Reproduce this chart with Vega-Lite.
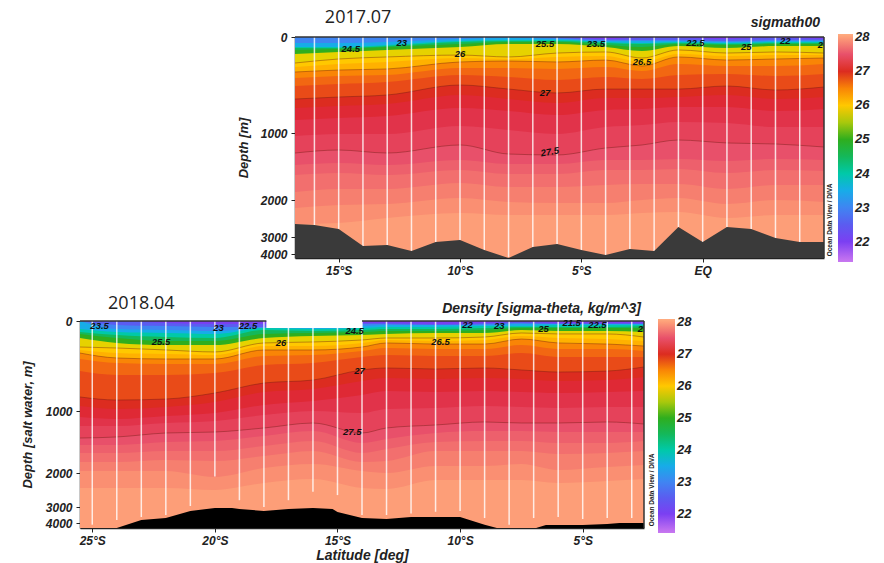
{"$schema":"https://vega.github.io/schema/vega-lite/v6.json","background":"white","padding":{"left":21,"top":8,"right":2,"bottom":2},"bounds":"flush","spacing":63,
"config":{"view":{"stroke":null},"font":"Liberation Sans","axis":{"labelFont":"Liberation Sans","labelFontWeight":"bold","labelFontStyle":"italic","labelFontSize":12,"labelColor":"#222","titleFont":"Liberation Sans","titleFontWeight":"bold","titleFontStyle":"italic","titleColor":"#222","domainColor":"#222","domainWidth":1.5,"tickColor":"#222","tickSize":4,"grid":false,"zindex":1},"legend":{"labelFont":"Liberation Sans","labelFontWeight":"bold","labelFontStyle":"italic","labelFontSize":13,"labelColor":"#222"},"title":{"font":"Liberation Sans","fontWeight":"bold","fontStyle":"italic","color":"#222"}},
"datasets":{
"lev1":[
{"s":22,"lat":-16.8,"d":0},{"s":22,"lat":5,"d":0},
{"s":22.5,"lat":-16.8,"d":0},{"s":22.5,"lat":-6,"d":0},{"s":22.5,"lat":-4,"d":21},{"s":22.5,"lat":-2.5,"d":10},{"s":22.5,"lat":-1,"d":10},{"s":22.5,"lat":1,"d":21},{"s":22.5,"lat":3,"d":10},{"s":22.5,"lat":5,"d":21},
{"s":23,"lat":-16.8,"d":0},{"s":23,"lat":-15,"d":0},{"s":23,"lat":-13,"d":0},{"s":23,"lat":-10,"d":0},{"s":23,"lat":-8,"d":0},{"s":23,"lat":-6,"d":10},{"s":23,"lat":-4,"d":31},{"s":23,"lat":-2.5,"d":31},{"s":23,"lat":-1,"d":31},{"s":23,"lat":1,"d":42},{"s":23,"lat":3,"d":31},{"s":23,"lat":5,"d":31},
{"s":23.5,"lat":-16.8,"d":63},{"s":23.5,"lat":-15,"d":63},{"s":23.5,"lat":-13,"d":52},{"s":23.5,"lat":-10,"d":21},{"s":23.5,"lat":-8,"d":10},{"s":23.5,"lat":-6,"d":21},{"s":23.5,"lat":-4,"d":42},{"s":23.5,"lat":-2.5,"d":42},{"s":23.5,"lat":-1,"d":42},{"s":23.5,"lat":1,"d":52},{"s":23.5,"lat":3,"d":42},{"s":23.5,"lat":5,"d":42},
{"s":24,"lat":-16.8,"d":104},{"s":24,"lat":-15,"d":104},{"s":24,"lat":-13,"d":83},{"s":24,"lat":-10,"d":42},{"s":24,"lat":-8,"d":31},{"s":24,"lat":-6,"d":31},{"s":24,"lat":-4,"d":52},{"s":24,"lat":-2.5,"d":63},{"s":24,"lat":-1,"d":52},{"s":24,"lat":1,"d":63},{"s":24,"lat":3,"d":52},{"s":24,"lat":5,"d":52},
{"s":24.5,"lat":-16.8,"d":115},{"s":24.5,"lat":-15,"d":115},{"s":24.5,"lat":-13,"d":94},{"s":24.5,"lat":-10,"d":52},{"s":24.5,"lat":-8,"d":42},{"s":24.5,"lat":-6,"d":42},{"s":24.5,"lat":-4,"d":63},{"s":24.5,"lat":-2.5,"d":73},{"s":24.5,"lat":-1,"d":63},{"s":24.5,"lat":1,"d":73},{"s":24.5,"lat":3,"d":63},{"s":24.5,"lat":5,"d":63},
{"s":25,"lat":-16.8,"d":135},{"s":25,"lat":-15,"d":125},{"s":25,"lat":-13,"d":104},{"s":25,"lat":-10,"d":73},{"s":25,"lat":-8,"d":52},{"s":25,"lat":-6,"d":52},{"s":25,"lat":-4,"d":83},{"s":25,"lat":-2.5,"d":104},{"s":25,"lat":-1,"d":73},{"s":25,"lat":1,"d":83},{"s":25,"lat":3,"d":73},{"s":25,"lat":5,"d":73},
{"s":25.75,"lat":-16.8,"d":177},{"s":25.75,"lat":-15,"d":156},{"s":25.75,"lat":-13,"d":135},{"s":25.75,"lat":-10,"d":104},{"s":25.75,"lat":-8,"d":73},{"s":25.75,"lat":-6,"d":73},{"s":25.75,"lat":-4,"d":104},{"s":25.75,"lat":-2.5,"d":146},{"s":25.75,"lat":-1,"d":94},{"s":25.75,"lat":1,"d":115},{"s":25.75,"lat":3,"d":94},{"s":25.75,"lat":5,"d":94},
{"s":26,"lat":-16.8,"d":271},{"s":26,"lat":-15,"d":229},{"s":26,"lat":-13,"d":208},{"s":26,"lat":-10,"d":188},{"s":26,"lat":-8,"d":208},{"s":26,"lat":-6,"d":167},{"s":26,"lat":-4,"d":156},{"s":26,"lat":-2.5,"d":219},{"s":26,"lat":-1,"d":135},{"s":26,"lat":1,"d":167},{"s":26,"lat":3,"d":156},{"s":26,"lat":5,"d":167},
{"s":26.25,"lat":-16.8,"d":313},{"s":26.25,"lat":-15,"d":281},{"s":26.25,"lat":-13,"d":260},{"s":26.25,"lat":-10,"d":219},{"s":26.25,"lat":-8,"d":229},{"s":26.25,"lat":-6,"d":208},{"s":26.25,"lat":-4,"d":198},{"s":26.25,"lat":-2.5,"d":260},{"s":26.25,"lat":-1,"d":177},{"s":26.25,"lat":1,"d":198},{"s":26.25,"lat":3,"d":188},{"s":26.25,"lat":5,"d":188},
{"s":26.5,"lat":-16.8,"d":365},{"s":26.5,"lat":-15,"d":344},{"s":26.5,"lat":-13,"d":333},{"s":26.5,"lat":-10,"d":260},{"s":26.5,"lat":-8,"d":250},{"s":26.5,"lat":-6,"d":260},{"s":26.5,"lat":-4,"d":240},{"s":26.5,"lat":-2.5,"d":302},{"s":26.5,"lat":-1,"d":208},{"s":26.5,"lat":1,"d":240},{"s":26.5,"lat":3,"d":229},{"s":26.5,"lat":5,"d":219},
{"s":26.65,"lat":-16.8,"d":427},{"s":26.65,"lat":-15,"d":406},{"s":26.65,"lat":-13,"d":396},{"s":26.65,"lat":-10,"d":323},{"s":26.65,"lat":-8,"d":323},{"s":26.65,"lat":-6,"d":333},{"s":26.65,"lat":-4,"d":313},{"s":26.65,"lat":-2.5,"d":354},{"s":26.65,"lat":-1,"d":281},{"s":26.65,"lat":1,"d":302},{"s":26.65,"lat":3,"d":302},{"s":26.65,"lat":5,"d":281},
{"s":26.8,"lat":-16.8,"d":510},{"s":26.8,"lat":-15,"d":490},{"s":26.8,"lat":-13,"d":469},{"s":26.8,"lat":-10,"d":396},{"s":26.8,"lat":-8,"d":417},{"s":26.8,"lat":-6,"d":448},{"s":26.8,"lat":-4,"d":417},{"s":26.8,"lat":-2.5,"d":438},{"s":26.8,"lat":-1,"d":396},{"s":26.8,"lat":1,"d":385},{"s":26.8,"lat":3,"d":406},{"s":26.8,"lat":5,"d":385},
{"s":27,"lat":-16.8,"d":646},{"s":27,"lat":-15,"d":625},{"s":27,"lat":-13,"d":604},{"s":27,"lat":-10,"d":500},{"s":27,"lat":-8,"d":542},{"s":27,"lat":-6,"d":583},{"s":27,"lat":-4,"d":542},{"s":27,"lat":-2.5,"d":542},{"s":27,"lat":-1,"d":542},{"s":27,"lat":1,"d":510},{"s":27,"lat":3,"d":552},{"s":27,"lat":5,"d":521},
{"s":27.15,"lat":-16.8,"d":740},{"s":27.15,"lat":-15,"d":719},{"s":27.15,"lat":-13,"d":698},{"s":27.15,"lat":-10,"d":604},{"s":27.15,"lat":-8,"d":646},{"s":27.15,"lat":-6,"d":688},{"s":27.15,"lat":-4,"d":635},{"s":27.15,"lat":-2.5,"d":635},{"s":27.15,"lat":-1,"d":625},{"s":27.15,"lat":1,"d":604},{"s":27.15,"lat":3,"d":646},{"s":27.15,"lat":5,"d":625},
{"s":27.3,"lat":-16.8,"d":865},{"s":27.3,"lat":-15,"d":844},{"s":27.3,"lat":-13,"d":823},{"s":27.3,"lat":-10,"d":740},{"s":27.3,"lat":-8,"d":771},{"s":27.3,"lat":-6,"d":813},{"s":27.3,"lat":-4,"d":760},{"s":27.3,"lat":-2.5,"d":750},{"s":27.3,"lat":-1,"d":729},{"s":27.3,"lat":1,"d":729},{"s":27.3,"lat":3,"d":771},{"s":27.3,"lat":5,"d":750},
{"s":27.4,"lat":-16.8,"d":1045},{"s":27.4,"lat":-15,"d":1015},{"s":27.4,"lat":-13,"d":1015},{"s":27.4,"lat":-10,"d":927},{"s":27.4,"lat":-8,"d":969},{"s":27.4,"lat":-6,"d":1015},{"s":27.4,"lat":-4,"d":938},{"s":27.4,"lat":-2.5,"d":917},{"s":27.4,"lat":-1,"d":885},{"s":27.4,"lat":1,"d":896},{"s":27.4,"lat":3,"d":938},{"s":27.4,"lat":5,"d":938},
{"s":27.5,"lat":-16.8,"d":1299},{"s":27.5,"lat":-15,"d":1254},{"s":27.5,"lat":-13,"d":1299},{"s":27.5,"lat":-10,"d":1179},{"s":27.5,"lat":-8,"d":1314},{"s":27.5,"lat":-6,"d":1328},{"s":27.5,"lat":-4,"d":1224},{"s":27.5,"lat":-2.5,"d":1179},{"s":27.5,"lat":-1,"d":1105},{"s":27.5,"lat":1,"d":1149},{"s":27.5,"lat":3,"d":1164},{"s":27.5,"lat":5,"d":1209},
{"s":27.6,"lat":-16.8,"d":1478},{"s":27.6,"lat":-15,"d":1448},{"s":27.6,"lat":-13,"d":1478},{"s":27.6,"lat":-10,"d":1403},{"s":27.6,"lat":-8,"d":1463},{"s":27.6,"lat":-6,"d":1463},{"s":27.6,"lat":-4,"d":1403},{"s":27.6,"lat":-2.5,"d":1403},{"s":27.6,"lat":-1,"d":1388},{"s":27.6,"lat":1,"d":1418},{"s":27.6,"lat":3,"d":1388},{"s":27.6,"lat":5,"d":1403},
{"s":27.7,"lat":-16.8,"d":1627},{"s":27.7,"lat":-15,"d":1597},{"s":27.7,"lat":-13,"d":1627},{"s":27.7,"lat":-10,"d":1552},{"s":27.7,"lat":-8,"d":1612},{"s":27.7,"lat":-6,"d":1612},{"s":27.7,"lat":-4,"d":1552},{"s":27.7,"lat":-2.5,"d":1552},{"s":27.7,"lat":-1,"d":1537},{"s":27.7,"lat":1,"d":1597},{"s":27.7,"lat":3,"d":1552},{"s":27.7,"lat":5,"d":1567},
{"s":27.8,"lat":-16.8,"d":1881},{"s":27.8,"lat":-15,"d":1836},{"s":27.8,"lat":-13,"d":1836},{"s":27.8,"lat":-10,"d":1746},{"s":27.8,"lat":-8,"d":1806},{"s":27.8,"lat":-6,"d":1806},{"s":27.8,"lat":-4,"d":1776},{"s":27.8,"lat":-2.5,"d":1761},{"s":27.8,"lat":-1,"d":1761},{"s":27.8,"lat":1,"d":1836},{"s":27.8,"lat":3,"d":1776},{"s":27.8,"lat":5,"d":1776},
{"s":27.9,"lat":-16.8,"d":2216},{"s":27.9,"lat":-15,"d":2135},{"s":27.9,"lat":-13,"d":2108},{"s":27.9,"lat":-10,"d":1970},{"s":27.9,"lat":-8,"d":2054},{"s":27.9,"lat":-6,"d":2081},{"s":27.9,"lat":-4,"d":2081},{"s":27.9,"lat":-2.5,"d":2000},{"s":27.9,"lat":-1,"d":1970},{"s":27.9,"lat":1,"d":2108},{"s":27.9,"lat":3,"d":2000},{"s":27.9,"lat":5,"d":2054},
{"s":28,"lat":-16.8,"d":2648},{"s":28,"lat":-15,"d":2621},{"s":28,"lat":-13,"d":2486},{"s":28,"lat":-10,"d":2351},{"s":28,"lat":-8,"d":2405},{"s":28,"lat":-6,"d":2405},{"s":28,"lat":-4,"d":2405},{"s":28,"lat":-2.5,"d":2351},{"s":28,"lat":-1,"d":2324},{"s":28,"lat":1,"d":2486},{"s":28,"lat":3,"d":2405},{"s":28,"lat":5,"d":2405}
],
"lev2":[
{"s":22,"lat":-25.5,"d":0},{"s":22,"lat":-2.5,"d":0},
{"s":22.5,"lat":-25.5,"d":0},{"s":22.5,"lat":-24,"d":0},{"s":22.5,"lat":-22,"d":22},{"s":22.5,"lat":-20,"d":33},{"s":22.5,"lat":-18,"d":33},{"s":22.5,"lat":-16,"d":33},{"s":22.5,"lat":-14,"d":22},{"s":22.5,"lat":-13,"d":22},{"s":22.5,"lat":-11,"d":33},{"s":22.5,"lat":-9,"d":22},{"s":22.5,"lat":-7.5,"d":11},{"s":22.5,"lat":-6,"d":22},{"s":22.5,"lat":-4,"d":22},{"s":22.5,"lat":-2.5,"d":22},
{"s":23,"lat":-25.5,"d":0},{"s":23,"lat":-24,"d":44},{"s":23,"lat":-22,"d":56},{"s":23,"lat":-20,"d":67},{"s":23,"lat":-18,"d":67},{"s":23,"lat":-16,"d":78},{"s":23,"lat":-14,"d":33},{"s":23,"lat":-13,"d":33},{"s":23,"lat":-11,"d":44},{"s":23,"lat":-9,"d":33},{"s":23,"lat":-7.5,"d":22},{"s":23,"lat":-6,"d":33},{"s":23,"lat":-4,"d":33},{"s":23,"lat":-2.5,"d":33},
{"s":23.5,"lat":-25.5,"d":0},{"s":23.5,"lat":-24,"d":89},{"s":23.5,"lat":-22,"d":100},{"s":23.5,"lat":-20,"d":111},{"s":23.5,"lat":-18,"d":78},{"s":23.5,"lat":-16,"d":78},{"s":23.5,"lat":-14,"d":56},{"s":23.5,"lat":-13,"d":44},{"s":23.5,"lat":-11,"d":44},{"s":23.5,"lat":-9,"d":44},{"s":23.5,"lat":-7.5,"d":33},{"s":23.5,"lat":-6,"d":33},{"s":23.5,"lat":-4,"d":33},{"s":23.5,"lat":-2.5,"d":33},
{"s":24,"lat":-25.5,"d":89},{"s":24,"lat":-24,"d":122},{"s":24,"lat":-22,"d":133},{"s":24,"lat":-20,"d":144},{"s":24,"lat":-18,"d":78},{"s":24,"lat":-16,"d":89},{"s":24,"lat":-14,"d":78},{"s":24,"lat":-13,"d":67},{"s":24,"lat":-11,"d":67},{"s":24,"lat":-9,"d":56},{"s":24,"lat":-7.5,"d":56},{"s":24,"lat":-6,"d":44},{"s":24,"lat":-4,"d":44},{"s":24,"lat":-2.5,"d":44},
{"s":24.5,"lat":-25.5,"d":122},{"s":24.5,"lat":-24,"d":156},{"s":24.5,"lat":-22,"d":178},{"s":24.5,"lat":-20,"d":189},{"s":24.5,"lat":-18,"d":100},{"s":24.5,"lat":-16,"d":111},{"s":24.5,"lat":-14,"d":100},{"s":24.5,"lat":-13,"d":89},{"s":24.5,"lat":-11,"d":89},{"s":24.5,"lat":-9,"d":78},{"s":24.5,"lat":-7.5,"d":67},{"s":24.5,"lat":-6,"d":67},{"s":24.5,"lat":-4,"d":67},{"s":24.5,"lat":-2.5,"d":56},
{"s":25,"lat":-25.5,"d":144},{"s":25,"lat":-24,"d":189},{"s":25,"lat":-22,"d":222},{"s":25,"lat":-20,"d":222},{"s":25,"lat":-18,"d":144},{"s":25,"lat":-16,"d":133},{"s":25,"lat":-14,"d":122},{"s":25,"lat":-13,"d":111},{"s":25,"lat":-11,"d":111},{"s":25,"lat":-9,"d":100},{"s":25,"lat":-7.5,"d":78},{"s":25,"lat":-6,"d":78},{"s":25,"lat":-4,"d":78},{"s":25,"lat":-2.5,"d":78},
{"s":25.75,"lat":-25.5,"d":189},{"s":25.75,"lat":-24,"d":244},{"s":25.75,"lat":-22,"d":267},{"s":25.75,"lat":-20,"d":267},{"s":25.75,"lat":-18,"d":189},{"s":25.75,"lat":-16,"d":167},{"s":25.75,"lat":-14,"d":156},{"s":25.75,"lat":-13,"d":144},{"s":25.75,"lat":-11,"d":133},{"s":25.75,"lat":-9,"d":133},{"s":25.75,"lat":-7.5,"d":100},{"s":25.75,"lat":-6,"d":111},{"s":25.75,"lat":-4,"d":111},{"s":25.75,"lat":-2.5,"d":122},
{"s":26,"lat":-25.5,"d":289},{"s":26,"lat":-24,"d":300},{"s":26,"lat":-22,"d":322},{"s":26,"lat":-20,"d":344},{"s":26,"lat":-18,"d":244},{"s":26,"lat":-16,"d":233},{"s":26,"lat":-14,"d":211},{"s":26,"lat":-13,"d":189},{"s":26,"lat":-11,"d":189},{"s":26,"lat":-9,"d":178},{"s":26,"lat":-7.5,"d":133},{"s":26,"lat":-6,"d":144},{"s":26,"lat":-4,"d":144},{"s":26,"lat":-2.5,"d":178},
{"s":26.25,"lat":-25.5,"d":322},{"s":26.25,"lat":-24,"d":356},{"s":26.25,"lat":-22,"d":367},{"s":26.25,"lat":-20,"d":378},{"s":26.25,"lat":-18,"d":278},{"s":26.25,"lat":-16,"d":278},{"s":26.25,"lat":-14,"d":244},{"s":26.25,"lat":-13,"d":211},{"s":26.25,"lat":-11,"d":222},{"s":26.25,"lat":-9,"d":211},{"s":26.25,"lat":-7.5,"d":167},{"s":26.25,"lat":-6,"d":189},{"s":26.25,"lat":-4,"d":200},{"s":26.25,"lat":-2.5,"d":222},
{"s":26.5,"lat":-25.5,"d":356},{"s":26.5,"lat":-24,"d":411},{"s":26.5,"lat":-22,"d":422},{"s":26.5,"lat":-20,"d":422},{"s":26.5,"lat":-18,"d":322},{"s":26.5,"lat":-16,"d":322},{"s":26.5,"lat":-14,"d":289},{"s":26.5,"lat":-13,"d":244},{"s":26.5,"lat":-11,"d":256},{"s":26.5,"lat":-9,"d":256},{"s":26.5,"lat":-7.5,"d":200},{"s":26.5,"lat":-6,"d":244},{"s":26.5,"lat":-4,"d":256},{"s":26.5,"lat":-2.5,"d":278},
{"s":26.65,"lat":-25.5,"d":422},{"s":26.65,"lat":-24,"d":467},{"s":26.65,"lat":-22,"d":478},{"s":26.65,"lat":-20,"d":478},{"s":26.65,"lat":-18,"d":389},{"s":26.65,"lat":-16,"d":378},{"s":26.65,"lat":-14,"d":333},{"s":26.65,"lat":-13,"d":300},{"s":26.65,"lat":-11,"d":311},{"s":26.65,"lat":-9,"d":311},{"s":26.65,"lat":-7.5,"d":267},{"s":26.65,"lat":-6,"d":311},{"s":26.65,"lat":-4,"d":311},{"s":26.65,"lat":-2.5,"d":333},
{"s":26.8,"lat":-25.5,"d":556},{"s":26.8,"lat":-24,"d":600},{"s":26.8,"lat":-22,"d":600},{"s":26.8,"lat":-20,"d":578},{"s":26.8,"lat":-18,"d":489},{"s":26.8,"lat":-16,"d":467},{"s":26.8,"lat":-14,"d":400},{"s":26.8,"lat":-13,"d":378},{"s":26.8,"lat":-11,"d":389},{"s":26.8,"lat":-9,"d":389},{"s":26.8,"lat":-7.5,"d":356},{"s":26.8,"lat":-6,"d":400},{"s":26.8,"lat":-4,"d":400},{"s":26.8,"lat":-2.5,"d":400},
{"s":27,"lat":-25.5,"d":844},{"s":27,"lat":-24,"d":878},{"s":27,"lat":-22,"d":867},{"s":27,"lat":-20,"d":800},{"s":27,"lat":-18,"d":689},{"s":27,"lat":-16,"d":656},{"s":27,"lat":-14,"d":544},{"s":27,"lat":-13,"d":522},{"s":27,"lat":-11,"d":533},{"s":27,"lat":-9,"d":522},{"s":27,"lat":-7.5,"d":544},{"s":27,"lat":-6,"d":567},{"s":27,"lat":-4,"d":556},{"s":27,"lat":-2.5,"d":511},
{"s":27.15,"lat":-25.5,"d":944},{"s":27.15,"lat":-24,"d":978},{"s":27.15,"lat":-22,"d":956},{"s":27.15,"lat":-20,"d":900},{"s":27.15,"lat":-18,"d":789},{"s":27.15,"lat":-16,"d":756},{"s":27.15,"lat":-14,"d":667},{"s":27.15,"lat":-13,"d":633},{"s":27.15,"lat":-11,"d":644},{"s":27.15,"lat":-9,"d":633},{"s":27.15,"lat":-7.5,"d":644},{"s":27.15,"lat":-6,"d":667},{"s":27.15,"lat":-4,"d":656},{"s":27.15,"lat":-2.5,"d":622},
{"s":27.3,"lat":-25.5,"d":1097},{"s":27.3,"lat":-24,"d":1129},{"s":27.3,"lat":-22,"d":1081},{"s":27.3,"lat":-20,"d":1032},{"s":27.3,"lat":-18,"d":933},{"s":27.3,"lat":-16,"d":889},{"s":27.3,"lat":-14,"d":822},{"s":27.3,"lat":-13,"d":778},{"s":27.3,"lat":-11,"d":789},{"s":27.3,"lat":-9,"d":778},{"s":27.3,"lat":-7.5,"d":789},{"s":27.3,"lat":-6,"d":800},{"s":27.3,"lat":-4,"d":789},{"s":27.3,"lat":-2.5,"d":778},
{"s":27.4,"lat":-25.5,"d":1242},{"s":27.4,"lat":-24,"d":1242},{"s":27.4,"lat":-22,"d":1194},{"s":27.4,"lat":-20,"d":1161},{"s":27.4,"lat":-18,"d":1065},{"s":27.4,"lat":-16,"d":1000},{"s":27.4,"lat":-14,"d":1032},{"s":27.4,"lat":-13,"d":978},{"s":27.4,"lat":-11,"d":967},{"s":27.4,"lat":-9,"d":944},{"s":27.4,"lat":-7.5,"d":956},{"s":27.4,"lat":-6,"d":967},{"s":27.4,"lat":-4,"d":956},{"s":27.4,"lat":-2.5,"d":956},
{"s":27.5,"lat":-25.5,"d":1436},{"s":27.5,"lat":-24,"d":1419},{"s":27.5,"lat":-22,"d":1355},{"s":27.5,"lat":-20,"d":1339},{"s":27.5,"lat":-18,"d":1274},{"s":27.5,"lat":-16,"d":1194},{"s":27.5,"lat":-14,"d":1355},{"s":27.5,"lat":-13,"d":1274},{"s":27.5,"lat":-11,"d":1226},{"s":27.5,"lat":-9,"d":1177},{"s":27.5,"lat":-7.5,"d":1194},{"s":27.5,"lat":-6,"d":1194},{"s":27.5,"lat":-4,"d":1177},{"s":27.5,"lat":-2.5,"d":1210},
{"s":27.6,"lat":-25.5,"d":1548},{"s":27.6,"lat":-24,"d":1548},{"s":27.6,"lat":-22,"d":1500},{"s":27.6,"lat":-20,"d":1484},{"s":27.6,"lat":-18,"d":1403},{"s":27.6,"lat":-16,"d":1323},{"s":27.6,"lat":-14,"d":1516},{"s":27.6,"lat":-13,"d":1452},{"s":27.6,"lat":-11,"d":1355},{"s":27.6,"lat":-9,"d":1323},{"s":27.6,"lat":-7.5,"d":1323},{"s":27.6,"lat":-6,"d":1339},{"s":27.6,"lat":-4,"d":1339},{"s":27.6,"lat":-2.5,"d":1339},
{"s":27.7,"lat":-25.5,"d":1677},{"s":27.7,"lat":-24,"d":1677},{"s":27.7,"lat":-22,"d":1645},{"s":27.7,"lat":-20,"d":1645},{"s":27.7,"lat":-18,"d":1565},{"s":27.7,"lat":-16,"d":1484},{"s":27.7,"lat":-14,"d":1677},{"s":27.7,"lat":-13,"d":1613},{"s":27.7,"lat":-11,"d":1500},{"s":27.7,"lat":-9,"d":1484},{"s":27.7,"lat":-7.5,"d":1484},{"s":27.7,"lat":-6,"d":1516},{"s":27.7,"lat":-4,"d":1516},{"s":27.7,"lat":-2.5,"d":1484},
{"s":27.8,"lat":-25.5,"d":1823},{"s":27.8,"lat":-24,"d":1823},{"s":27.8,"lat":-22,"d":1790},{"s":27.8,"lat":-20,"d":1806},{"s":27.8,"lat":-18,"d":1726},{"s":27.8,"lat":-16,"d":1645},{"s":27.8,"lat":-14,"d":1823},{"s":27.8,"lat":-13,"d":1806},{"s":27.8,"lat":-11,"d":1645},{"s":27.8,"lat":-9,"d":1645},{"s":27.8,"lat":-7.5,"d":1645},{"s":27.8,"lat":-6,"d":1694},{"s":27.8,"lat":-4,"d":1677},{"s":27.8,"lat":-2.5,"d":1645},
{"s":27.9,"lat":-25.5,"d":1968},{"s":27.9,"lat":-24,"d":1968},{"s":27.9,"lat":-22,"d":1968},{"s":27.9,"lat":-20,"d":2118},{"s":27.9,"lat":-18,"d":1919},{"s":27.9,"lat":-16,"d":1855},{"s":27.9,"lat":-14,"d":1968},{"s":27.9,"lat":-13,"d":2000},{"s":27.9,"lat":-11,"d":1887},{"s":27.9,"lat":-9,"d":1887},{"s":27.9,"lat":-7.5,"d":1855},{"s":27.9,"lat":-6,"d":1952},{"s":27.9,"lat":-4,"d":1903},{"s":27.9,"lat":-2.5,"d":1871},
{"s":28,"lat":-25.5,"d":2441},{"s":28,"lat":-24,"d":2441},{"s":28,"lat":-22,"d":2441},{"s":28,"lat":-20,"d":2500},{"s":28,"lat":-18,"d":2294},{"s":28,"lat":-16,"d":2176},{"s":28,"lat":-14,"d":2441},{"s":28,"lat":-13,"d":2470},{"s":28,"lat":-11,"d":2206},{"s":28,"lat":-9,"d":2206},{"s":28,"lat":-7.5,"d":2206},{"s":28,"lat":-6,"d":2294},{"s":28,"lat":-4,"d":2235},{"s":28,"lat":-2.5,"d":2176}
],
"sta1":[{"lat":-16,"d":0,"end":2675},{"lat":-15,"d":0,"end":2783},{"lat":-14,"d":0,"end":3530},{"lat":-13,"d":0,"end":3470},{"lat":-12,"d":0,"end":3820},{"lat":-11,"d":0,"end":3295},{"lat":-10,"d":0,"end":3176},{"lat":-9,"d":0,"end":3765},{"lat":-8,"d":0,"end":4220},{"lat":-7,"d":0,"end":3590},{"lat":-6,"d":0,"end":3410},{"lat":-5,"d":0,"end":3765},{"lat":-4,"d":0,"end":4080},{"lat":-3,"d":0,"end":3705},{"lat":-2,"d":0,"end":3820},{"lat":-1,"d":0,"end":2730},{"lat":0,"d":0,"end":3295},{"lat":1,"d":0,"end":2730},{"lat":2,"d":0,"end":2783},{"lat":3,"d":0,"end":3060},{"lat":4,"d":0,"end":3295}],
"sta2":[{"lat":-25,"d":0,"end":4100},{"lat":-24,"d":0,"end":3812},{"lat":-23,"d":0,"end":3625},{"lat":-22,"d":0,"end":3500},{"lat":-21,"d":0,"end":2970},{"lat":-20,"d":0,"end":2100},{"lat":-19,"d":0,"end":2800},{"lat":-18,"d":0,"end":3000},{"lat":-17,"d":0,"end":2800},{"lat":-16,"d":0,"end":2550},{"lat":-15,"d":0,"end":2650},{"lat":-14,"d":0,"end":3500},{"lat":-13,"d":0,"end":3500},{"lat":-12,"d":0,"end":3400},{"lat":-11,"d":0,"end":3300},{"lat":-10,"d":0,"end":3250},{"lat":-9,"d":0,"end":3690},{"lat":-8,"d":0,"end":4100},{"lat":-7,"d":0,"end":3690},{"lat":-6,"d":0,"end":3625},{"lat":-5,"d":0,"end":3750},{"lat":-4,"d":0,"end":3690},{"lat":-3,"d":0,"end":3690}],
"bath1":[{"lat":-16.8,"d":2648},{"lat":-16,"d":2675},{"lat":-15,"d":2783},{"lat":-14,"d":3530},{"lat":-13,"d":3470},{"lat":-12,"d":3820},{"lat":-11,"d":3295},{"lat":-10,"d":3176},{"lat":-9,"d":3765},{"lat":-8,"d":4300},{"lat":-7,"d":3590},{"lat":-6,"d":3410},{"lat":-5,"d":3765},{"lat":-4,"d":4080},{"lat":-3,"d":3705},{"lat":-2,"d":3820},{"lat":-1,"d":2730},{"lat":0,"d":3295},{"lat":1,"d":2730},{"lat":2,"d":2783},{"lat":3,"d":3060},{"lat":4,"d":3295},{"lat":5,"d":3295}],
"bath2":[{"lat":-25.5,"d":4300},{"lat":-24,"d":4300},{"lat":-23,"d":3812},{"lat":-22,"d":3690},{"lat":-21,"d":3250},{"lat":-20,"d":3060},{"lat":-19.3,"d":3060},{"lat":-19,"d":3125},{"lat":-18,"d":3250},{"lat":-17,"d":3125},{"lat":-16,"d":3060},{"lat":-15.2,"d":3125},{"lat":-15,"d":3312},{"lat":-14,"d":3690},{"lat":-13,"d":3750},{"lat":-12,"d":3625},{"lat":-10,"d":3625},{"lat":-9,"d":4100},{"lat":-8.5,"d":4300},{"lat":-6.9,"d":4300},{"lat":-6.5,"d":4120},{"lat":-5,"d":4120},{"lat":-4,"d":4060},{"lat":-3.5,"d":4000},{"lat":-2.5,"d":4000}],
"lab1":[{"lat":-14.5,"d":125,"t":"24.5","a":0},{"lat":-12.4,"d":62,"t":"23","a":0},{"lat":-10,"d":177,"t":"26","a":0},{"lat":-6.5,"d":73,"t":"25.5","a":0},{"lat":-4.4,"d":73,"t":"23.5","a":0},{"lat":-2.5,"d":260,"t":"26.5","a":0},{"lat":-6.5,"d":583,"t":"27","a":0},{"lat":-6.3,"d":1284,"t":"27.5","a":-10},{"lat":-0.3,"d":62,"t":"22.5","a":0},{"lat":1.8,"d":104,"t":"25","a":0},{"lat":3.4,"d":42,"t":"22","a":0},{"lat":4.85,"d":83,"t":"2","a":0}],
"lab2":[{"lat":-24.7,"d":56,"t":"23.5","a":0},{"lat":-22.2,"d":233,"t":"25.5","a":0},{"lat":-19.85,"d":78,"t":"23","a":0},{"lat":-18.65,"d":56,"t":"22.5","a":0},{"lat":-17.3,"d":244,"t":"26","a":0},{"lat":-14.3,"d":111,"t":"24.5","a":0},{"lat":-14.1,"d":556,"t":"27","a":0},{"lat":-14.4,"d":1339,"t":"27.5","a":0},{"lat":-10.8,"d":233,"t":"26.5","a":0},{"lat":-9.7,"d":44,"t":"22","a":0},{"lat":-8.4,"d":56,"t":"23","a":0},{"lat":-6.6,"d":89,"t":"25","a":0},{"lat":-5.45,"d":22,"t":"21.5","a":0},{"lat":-4.4,"d":44,"t":"22.5","a":0},{"lat":-2.65,"d":89,"t":"2","a":0}]
},
"resolve":{"scale":{"color":"independent"},"legend":{"color":"independent"}},
"vconcat":[
{"width":744,"height":221,
"title":{"text":"sigmath00","anchor":"end","frame":"group","fontSize":14,"offset":-21,"dx":-4},
"encoding":{"x":{"field":"lat","type":"quantitative","scale":{"domain":[-16.8,5],"range":[215,744],"nice":false,"zero":false},"axis":{"values":[-15,-10,-5,0],"labelExpr":"datum.value==0?'EQ':abs(datum.value)+'°S'","title":null,"labelPadding":3}},
"y":{"field":"d","type":"quantitative","scale":{"domain":[0,1000,2000,3000,4000,4300],"range":[0,96,163,200,217,221],"nice":false,"zero":false},"axis":{"values":[0,1000,2000,3000,4000],"format":"d","title":"Depth [m]","titleFontSize":13,"titlePadding":10,"labelPadding":4,"offset":-215}}},
"layer":[
{"data":{"name":"lev1"},"mark":{"type":"area","orient":"vertical","interpolate":"monotone"},"encoding":{"y2":{"datum":4300},"detail":{"field":"s"},"color":{"field":"s","type":"quantitative","scale":{"domain":[21.4,22,22.5,23,23.5,24,24.5,25,25.5,25.8,26,26.3,26.6,26.85,27,27.25,27.5,27.7,27.9,28.1],"range":["#C878F0","#7B3FF2","#5B5CF0","#3F85F2","#17ACE8","#00C9A8","#14B85A","#2FAE1E","#A8C80C","#F3D400","#FFC800","#FFAC00","#F47010","#E6401A","#DC2C20","#DF2A42","#E8506A","#F26F6E","#FA8F72","#FFAD80"]},"legend":{"type":"gradient","orient":"none","legendX":758,"legendY":-3,"gradientLength":228,"gradientThickness":15,"title":null,"values":[22,23,24,25,26,27,28],"format":"d","gradientStrokeWidth":0}}}},
{"data":{"name":"lev1"},"transform":[{"filter":{"field":"s","oneOf":[26,26.5,27,27.5]}}],"mark":{"type":"line","interpolate":"monotone","stroke":"#6a1a10","strokeOpacity":0.4,"strokeWidth":1},"encoding":{"detail":{"field":"s"}}},
{"data":{"name":"sta1"},"mark":{"type":"rule","color":"white","opacity":0.8,"strokeWidth":1.5},"encoding":{"y2":{"field":"end"}}},
{"data":{"name":"bath1"},"mark":{"type":"area","orient":"vertical","color":"#3a3a3a"},"encoding":{"y2":{"datum":4300}}},
{"data":{"values":[{"lat":-16.8,"lat2":5,"d":0,"d2":0},{"lat":5,"lat2":5,"d":0,"d2":4300}]},"mark":{"type":"rule","color":"#333","strokeWidth":1.5},"encoding":{"x2":{"field":"lat2"},"y2":{"field":"d2"}}},
{"data":{"name":"lab1"},"mark":{"type":"text","font":"Liberation Sans","fontWeight":"bold","fontStyle":"italic","fontSize":9.5,"color":"#111"},"encoding":{"text":{"field":"t"},"angle":{"field":"a","type":"quantitative","scale":null}}},
{"data":{"values":[{"lat":-14.2,"d":-198,"t":"2017.07"}]},"mark":{"type":"text","font":"Open Sans","fontSize":18,"color":"#222"},"encoding":{"text":{"field":"t"}}},
{"data":{"values":[{"lat":5.23,"d":2540,"t":"Ocean Data View / DIVA"}]},"mark":{"type":"text","font":"Liberation Sans","fontWeight":"bold","fontSize":6.5,"angle":270,"color":"#222"},"encoding":{"text":{"field":"t"}}}
]},
{"width":564,"height":207,
"title":{"text":"Density [sigma-theta, kg/m^3]","anchor":"end","frame":"group","fontSize":14,"offset":-21,"dx":-3},
"encoding":{"x":{"field":"lat","type":"quantitative","scale":{"domain":[-25.5,-2.5],"nice":false,"zero":false},"axis":{"values":[-25,-20,-15,-10,-5],"labelExpr":"abs(datum.value)+'°S'","title":"Latitude [deg]","titleFontSize":14,"titlePadding":2,"labelPadding":3}},
"y":{"field":"d","type":"quantitative","scale":{"domain":[0,1000,2000,3000,4000,4300],"range":[0,90,152,186,202,207],"nice":false,"zero":false},"axis":{"values":[0,1000,2000,3000,4000],"format":"d","title":"Depth [salt water, m]","titleFontSize":13,"titlePadding":11,"labelPadding":4}}},
"layer":[
{"data":{"name":"lev2"},"mark":{"type":"area","orient":"vertical","interpolate":"monotone"},"encoding":{"y2":{"datum":4300},"detail":{"field":"s"},"color":{"field":"s","type":"quantitative","scale":{"domain":[21.4,22,22.5,23,23.5,24,24.5,25,25.5,25.8,26,26.3,26.6,26.85,27,27.25,27.5,27.7,27.9,28.1],"range":["#C878F0","#7B3FF2","#5B5CF0","#3F85F2","#17ACE8","#00C9A8","#14B85A","#2FAE1E","#A8C80C","#F3D400","#FFC800","#FFAC00","#F47010","#E6401A","#DC2C20","#DF2A42","#E8506A","#F26F6E","#FA8F72","#FFAD80"]},"legend":{"type":"gradient","orient":"none","legendX":578,"legendY":-2,"gradientLength":214,"gradientThickness":17,"title":null,"values":[22,23,24,25,26,27,28],"format":"d","gradientStrokeWidth":0}}}},
{"data":{"name":"lev2"},"transform":[{"filter":{"field":"s","oneOf":[26,26.5,27,27.5]}}],"mark":{"type":"line","interpolate":"monotone","stroke":"#6a1a10","strokeOpacity":0.4,"strokeWidth":1},"encoding":{"detail":{"field":"s"}}},
{"data":{"name":"sta2"},"mark":{"type":"rule","color":"white","opacity":0.8,"strokeWidth":1.5},"encoding":{"y2":{"field":"end"}}},
{"data":{"values":[{"lat":-17.9,"lat2":-14,"d":0,"d2":78}]},"mark":{"type":"rect","color":"white"},"encoding":{"x2":{"field":"lat2"},"y2":{"field":"d2"}}},
{"data":{"name":"bath2"},"mark":{"type":"area","orient":"vertical","color":"#000"},"encoding":{"y2":{"datum":4300}}},
{"data":{"values":[{"lat":-25.5,"lat2":-17.9,"d":0,"d2":0},{"lat":-14,"lat2":-2.5,"d":0,"d2":0},{"lat":-2.5,"lat2":-2.5,"d":0,"d2":4300}]},"mark":{"type":"rule","color":"#333","strokeWidth":1.5},"encoding":{"x2":{"field":"lat2"},"y2":{"field":"d2"}}},
{"data":{"name":"lab2"},"mark":{"type":"text","font":"Liberation Sans","fontWeight":"bold","fontStyle":"italic","fontSize":9.5,"color":"#111"},"encoding":{"text":{"field":"t"}}},
{"data":{"values":[{"lat":-23,"d":-189,"t":"2018.04"}]},"mark":{"type":"text","font":"Open Sans","fontSize":18,"color":"#222"},"encoding":{"text":{"field":"t"}}},
{"data":{"values":[{"lat":-2.18,"d":2500,"t":"Ocean Data View / DIVA"}]},"mark":{"type":"text","font":"Liberation Sans","fontWeight":"bold","fontSize":6.5,"angle":270,"color":"#222"},"encoding":{"text":{"field":"t"}}}
]}
]}
